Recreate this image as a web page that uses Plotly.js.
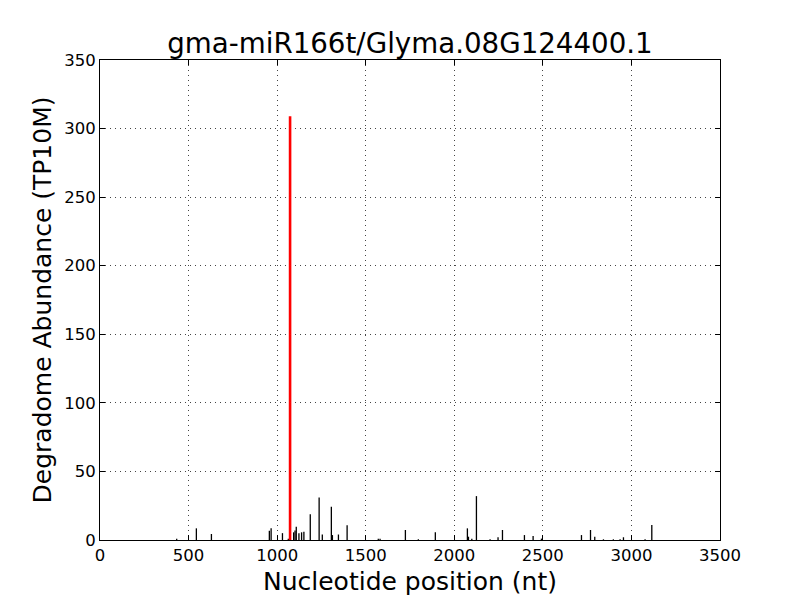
<!DOCTYPE html>
<html>
<head>
<meta charset="utf-8">
<script src="https://cdn.plot.ly/plotly-3.0.1.min.js"></script>
<style>html,body{margin:0;padding:0;background:#fff;}#chart{width:800px;height:600px;}</style>
</head>
<body>
<div id="chart"></div>
<script>
// Degradome peaks (position in nt, abundance in TP10M)
const positions = [433, 544, 629, 956, 966, 1030, 1063, 1093, 1101, 1108, 1123, 1138, 1151, 1187, 1237, 1255, 1306, 1312, 1346, 1395, 1571, 1581, 1724, 1797, 1893, 2074, 2080, 2099, 2125, 2202, 2247, 2272, 2396, 2445, 2492, 2718, 2769, 2793, 2842, 2898, 2936, 2955, 3077, 3115];
const abundances = [1, 8.5, 4.4, 6.8, 8.5, 5, 1, 5.6, 7, 9.7, 5, 5.6, 6, 18.7, 31, 4, 24.3, 3.6, 4, 10.7, 1, 1, 7.3, 0.5, 5.6, 8.5, 2.4, 1, 32, 0.5, 2, 7.3, 3.6, 2.9, 1, 3.6, 7.3, 2.4, 0.5, 0.5, 0.5, 2, 0.5, 11];
// Target site (miRNA cleavage)
const targetPos = [1073];
const targetAbund = [309];

const xTicks = [0, 500, 1000, 1500, 2000, 2500, 3000, 3500];
const yTicks = [0, 50, 100, 150, 200, 250, 300, 350];

function stems(xs, ys) {
  const X = [], Y = [];
  xs.forEach((x, i) => { X.push(x, x, null); Y.push(0, ys[i], null); });
  return {X, Y};
}
const s1 = stems(positions, abundances);
const s2 = stems(targetPos, targetAbund);

const fam = 'DejaVu Sans, sans-serif';
const axisCommon = {
  showline: true, mirror: 'ticks', linecolor: '#000', linewidth: 1,
  ticks: 'inside', ticklen: 5, tickcolor: '#000', tickwidth: 1,
  showgrid: true, gridcolor: '#444', griddash: '1px,4px', gridwidth: 1,
  zeroline: false, tickfont: {family: fam, size: 16.5, color: '#000'}
};

Plotly.newPlot('chart', [
  {x: s1.X, y: s1.Y, type: 'scatter', mode: 'lines', line: {color: '#000', width: 1.3}, hoverinfo: 'skip', connectgaps: false},
  {x: s2.X, y: s2.Y, type: 'scatter', mode: 'lines', line: {color: '#ff0000', width: 2.6}, hoverinfo: 'skip', connectgaps: false}
], {
  width: 800, height: 600,
  margin: {l: 100, r: 80, t: 60, b: 60},
  paper_bgcolor: '#fff', plot_bgcolor: '#fff',
  showlegend: false,
  title: {text: 'gma-miR166t/Glyma.08G124400.1', font: {family: fam, size: 27.7, color: '#000'}, x: 0.5125, xanchor: 'center', y: 0.928, yanchor: 'middle'},
  xaxis: Object.assign({}, axisCommon, {
    range: [0, 3500], tickvals: xTicks, ticktext: xTicks.map(String),
    title: {text: 'Nucleotide position (nt)', font: {family: fam, size: 25, color: '#000'}, standoff: 8}
  }),
  yaxis: Object.assign({}, axisCommon, {
    range: [0, 350], tickvals: yTicks, ticktext: yTicks.map(String),
    title: {text: 'Degradome Abundance (TP10M)', font: {family: fam, size: 25, color: '#000'}, standoff: 5}
  })
}, {staticPlot: true});
</script>
</body>
</html>
